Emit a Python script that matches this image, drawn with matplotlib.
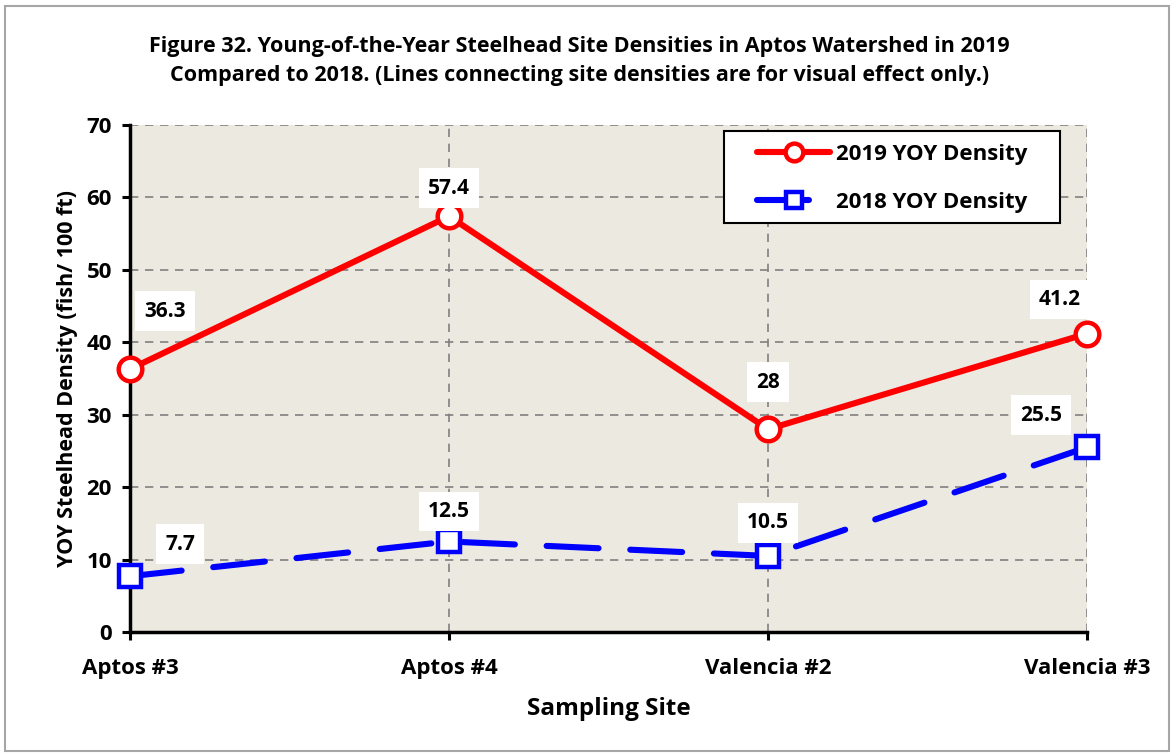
import matplotlib.pyplot as plt
import matplotlib.patches as patches

plt.rcParams['font.family'] = ['Open Sans', 'DejaVu Sans']
plt.rcParams['font.weight'] = 'bold'

# data
sites = ['Aptos #3', 'Aptos #4', 'Valencia #2', 'Valencia #3']
yoy2019 = [36.3, 57.4, 28, 41.2]
yoy2018 = [7.7, 12.5, 10.5, 25.5]
labels2019 = ['36.3', '57.4', '28', '41.2']
labels2018 = ['7.7', '12.5', '10.5', '25.5']

# label offsets in pixels (dx, dy up)
off2019 = [(35, 58), (0, 28), (0, 47), (-27, 34)]
off2018 = [(50, 32), (0, 30), (0, 33), (-46, 32)]

fig = plt.figure(figsize=(11.76, 7.56), dpi=100)
ax = fig.add_axes([130/1176, 1-632/756, 957/1176, 507/756])
ax.set_facecolor('#ECE9E0')

# outer frame
fig.patches.append(patches.Rectangle((5/1176, 5/756), 1164/1176, 745/756,
                                     transform=fig.transFigure, fill=False,
                                     edgecolor='#A6A6A6', lw=1.5))

x = list(range(len(sites)))
ax.plot(x, yoy2019, color='#FF0000', lw=4.4, marker='o', ms=17,
        mfc='white', mec='#FF0000', mew=3.2, label='2019 YOY Density',
        solid_capstyle='round', zorder=4, clip_on=False)
ax.plot(x, yoy2018, color='#0000FF', lw=4.4, marker='s', ms=16,
        mfc='white', mec='#0000FF', mew=3.2, label='2018 YOY Density',
        dashes=(8.5, 5.2), dash_capstyle='round', zorder=4, clip_on=False)

px = 72 / 100
for xi, v, t, (dx, dy) in zip(x, yoy2019, labels2019, off2019):
    ax.annotate(t, (xi, v), xytext=(dx*px, dy*px), textcoords='offset points',
                ha='center', va='center', fontsize=15, fontweight='bold',
                bbox=dict(boxstyle='square,pad=0.45', fc='white', ec='none'),
                zorder=5)
for xi, v, t, (dx, dy) in zip(x, yoy2018, labels2018, off2018):
    ax.annotate(t, (xi, v), xytext=(dx*px, dy*px), textcoords='offset points',
                ha='center', va='center', fontsize=15, fontweight='bold',
                bbox=dict(boxstyle='square,pad=0.45', fc='white', ec='none'),
                zorder=5)

ax.set_xlim(0, 3)
ax.set_ylim(0, 70)
ax.set_xticks(x)
ax.set_xticklabels(sites)
ax.set_yticks(range(0, 71, 10))
ax.tick_params(axis='both', labelsize=16, width=2.2, length=6, direction='out')
ax.tick_params(axis='x', pad=13)
ax.tick_params(axis='y', pad=7)
for lab in ax.get_xticklabels() + ax.get_yticklabels():
    lab.set_fontweight('bold')

ax.grid(True, color='#808080', lw=1.2, ls=(0, (5, 4)))
ax.set_axisbelow(True)
for s in ['top', 'right']:
    ax.spines[s].set_visible(False)
for s in ['left', 'bottom']:
    ax.spines[s].set_linewidth(2.5)
    ax.spines[s].set_zorder(3)

ax.set_xlabel('Sampling Site', fontsize=17.5, fontweight='bold', labelpad=13)
ax.set_ylabel('YOY Steelhead Density (fish/ 100 ft)', fontsize=15.5,
              fontweight='bold', labelpad=6)

fig.text(0.493, 1-61/756, 'Figure 32. Young-of-the-Year Steelhead Site Densities in Aptos Watershed in 2019\n'
         'Compared to 2018. (Lines connecting site densities are for visual effect only.)',
         ha='center', va='center', fontsize=15.5, fontweight='bold', linespacing=1.5)

# legend box drawn separately so its padding matches the original
ax.add_patch(patches.Rectangle((0.6207, 0.8067), 0.3511, 0.1815, transform=ax.transAxes,
                               fc='white', ec='black', lw=1.5, zorder=6))
leg = ax.legend(loc='upper left', bbox_to_anchor=(0.655, 0.962), fontsize=16,
                frameon=False, handlelength=3.3, borderpad=0, labelspacing=1.2,
                handletextpad=0.25, markerscale=0.75, borderaxespad=0)
leg.set_zorder(7)
for t in leg.get_texts():
    t.set_fontweight('bold')

fig.savefig('out.png', dpi=100)
